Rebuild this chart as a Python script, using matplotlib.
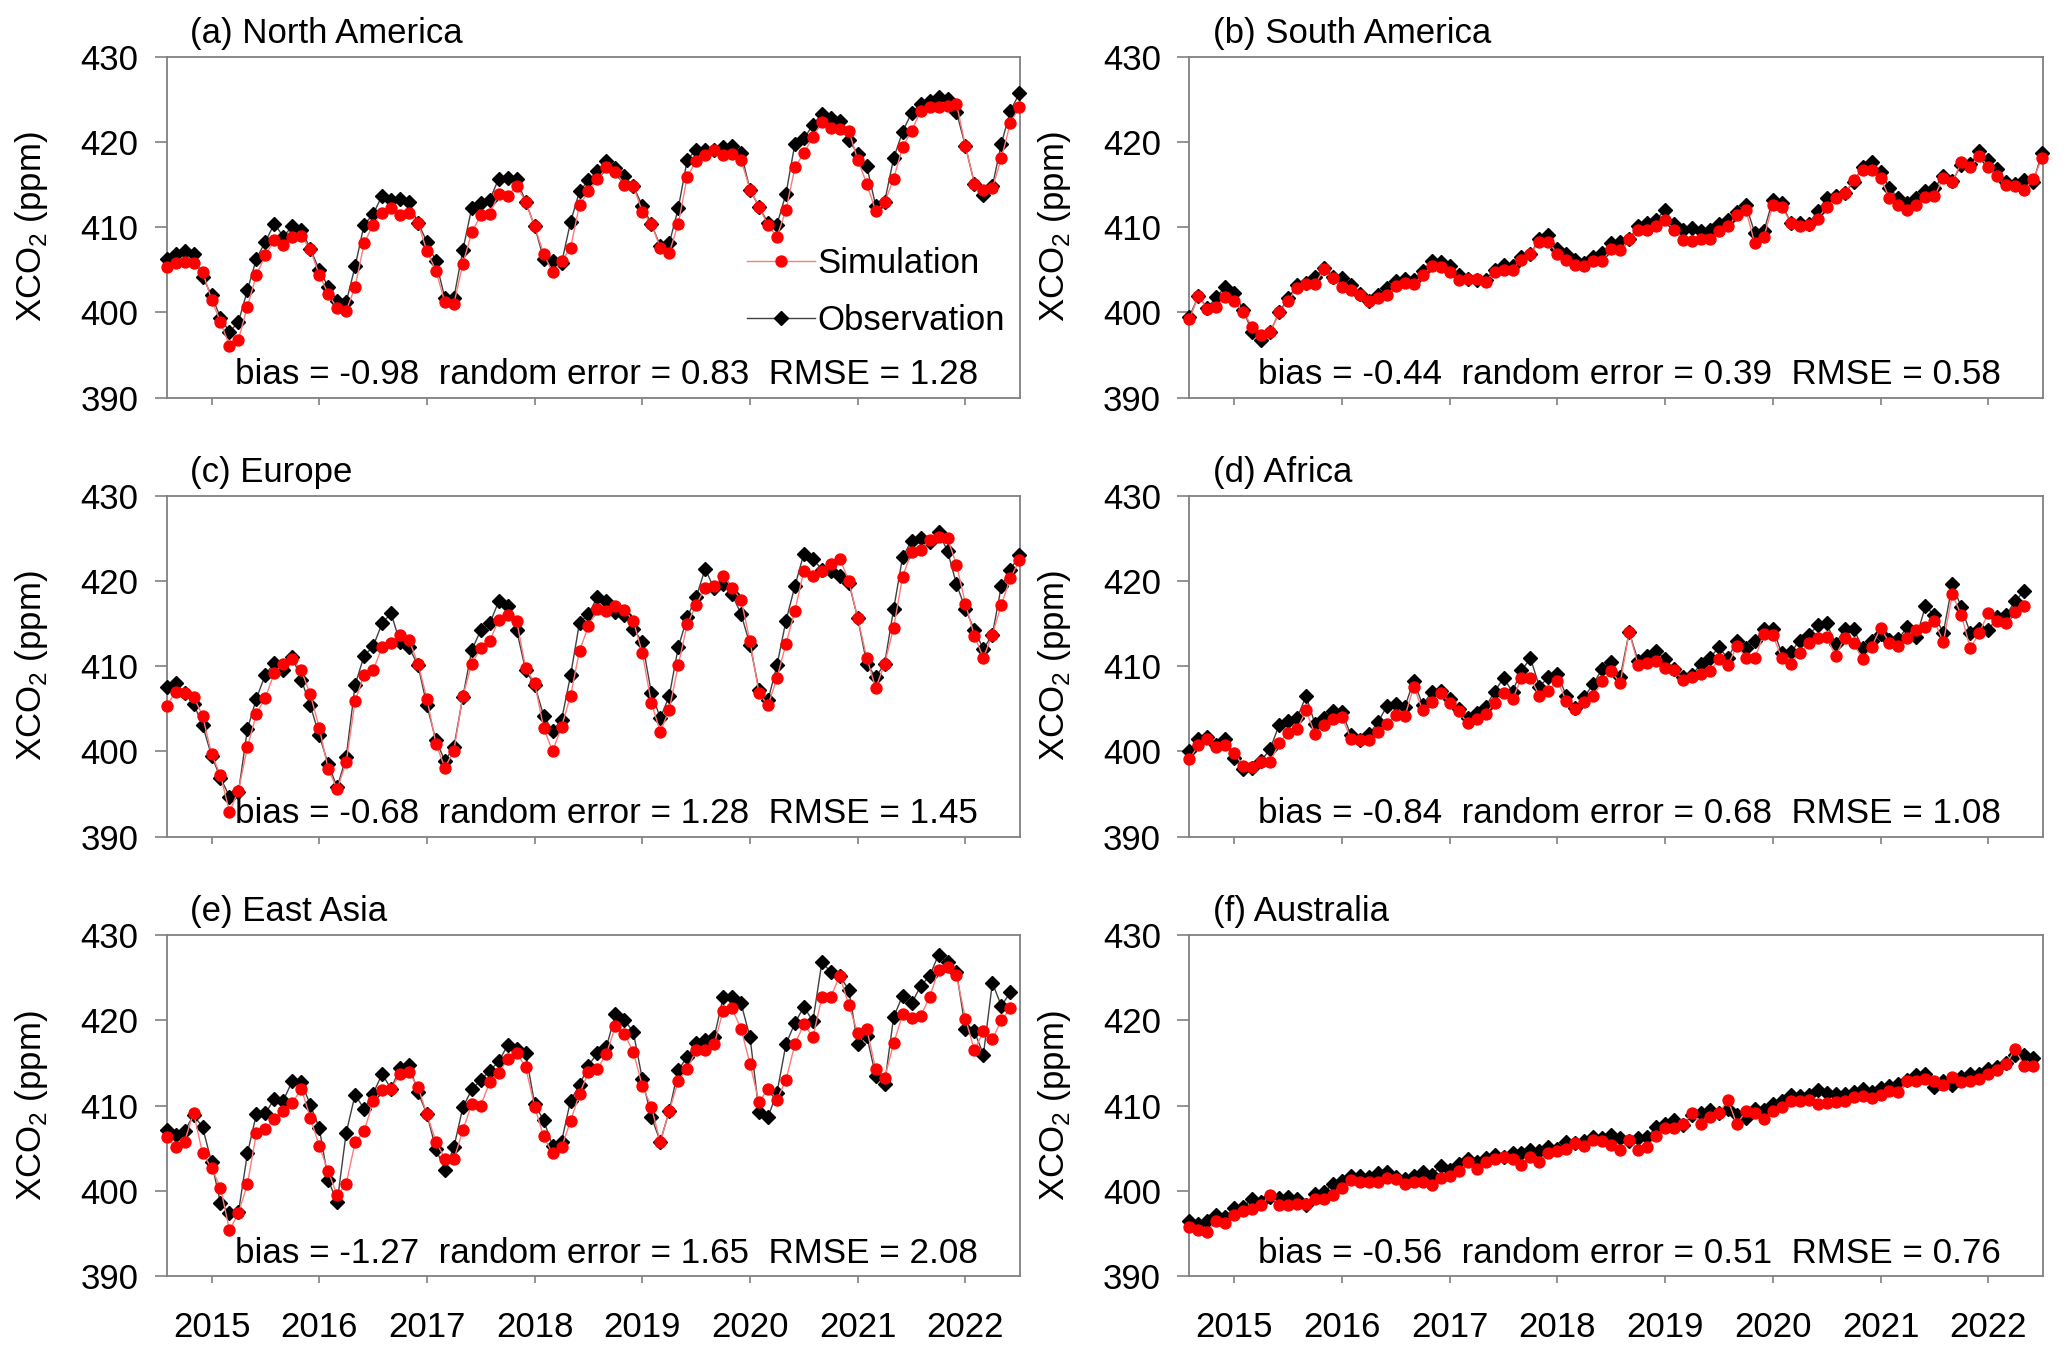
import numpy as np
import matplotlib.pyplot as plt
from matplotlib.lines import Line2D

plt.rcParams["font.family"] = ["Liberation Sans", "DejaVu Sans"]
plt.rcParams["mathtext.fontset"] = "custom"
plt.rcParams["mathtext.rm"] = "Liberation Sans"


# -------------------------------------------------
# Monthly XCO2 (ppm), first value = Aug 2014
# -------------------------------------------------
na_obs = [406.3, 406.8, 407.2, 406.8, 404.2, 402.0, 399.4, 397.7, 398.9, 402.6,
          406.3, 408.3, 410.4, 408.9, 410.1, 409.7, 407.5, 405.0, 403.0, 401.4,
          401.2, 405.4, 410.3, 411.5, 413.7, 413.2, 413.3, 412.9, 410.5, 408.3,
          406.0, 401.7, 401.7, 407.3, 412.3, 412.8, 413.2, 415.7, 415.8, 415.6,
          413.0, 410.1, 406.3, 406.0, 405.8, 410.6, 414.2, 415.5, 416.6, 417.8,
          416.9, 416.0, 414.8, 412.5, 410.4, 407.8, 408.1, 412.2, 417.9, 419.1,
          419.0, 419.0, 419.4, 419.5, 418.7, 414.4, 412.4, 410.5, 410.3, 413.9,
          419.8, 420.4, 422.0, 423.3, 422.8, 422.5, 420.2, 418.6, 417.2, 412.5,
          413.0, 418.1, 421.2, 423.4, 424.5, 424.8, 425.3, 425.0, 423.5, 419.5,
          415.1, 413.8, 414.8, 419.8, 423.6, 425.7]
na_sim = [405.3, 405.8, 405.9, 405.8, 404.8, 401.5, 398.9, 396.1, 396.8, 400.7,
          404.4, 406.7, 408.5, 407.9, 408.8, 409.0, 407.4, 404.4, 402.2, 400.5,
          400.2, 403.0, 408.1, 410.3, 411.7, 412.2, 411.4, 411.7, 410.5, 407.2,
          404.9, 401.2, 401.0, 405.7, 409.4, 411.4, 411.5, 413.9, 413.7, 414.8,
          413.0, 410.1, 406.9, 404.7, 406.0, 407.6, 412.6, 414.2, 415.6, 417.0,
          416.5, 415.0, 414.8, 411.8, 410.4, 407.6, 407.0, 410.4, 415.9, 417.8,
          418.5, 419.1, 418.5, 418.6, 417.9, 414.4, 412.4, 410.2, 408.9, 412.0,
          417.0, 418.7, 420.6, 422.3, 421.6, 421.5, 421.3, 417.9, 415.1, 411.9,
          412.9, 415.7, 419.4, 421.3, 423.6, 424.1, 424.1, 424.2, 424.5, 419.5,
          415.1, 414.4, 414.6, 418.1, 422.2, 424.1]

sa_obs = [399.5, 401.9, 400.5, 401.8, 403.0, 402.3, 400.3, 397.7, 396.8, 397.7,
          400.0, 401.7, 403.2, 403.5, 404.2, 405.2, 404.2, 404.0, 403.2, 402.2,
          401.3, 402.0, 402.9, 403.7, 403.9, 403.8, 404.9, 406.0, 405.9, 405.4,
          404.4, 403.9, 403.8, 403.8, 405.0, 405.6, 405.4, 406.5, 406.9, 408.6,
          409.1, 407.5, 406.9, 406.1, 405.8, 406.5, 407.0, 408.2, 408.3, 408.6,
          410.1, 410.5, 410.9, 412.0, 410.4, 409.7, 409.9, 409.5, 409.7, 410.4,
          410.8, 411.8, 412.6, 409.3, 409.5, 413.2, 412.8, 410.5, 410.5, 410.4,
          411.9, 413.4, 413.6, 414.0, 415.3, 417.1, 417.6, 416.5, 414.6, 413.4,
          412.8, 413.4, 414.2, 414.6, 416.0, 415.4, 417.3, 417.4, 418.9, 417.9,
          416.8, 415.3, 415.1, 415.5, 415.3, 418.7]
sa_sim = [399.2, 401.9, 400.4, 400.6, 401.8, 401.3, 400.1, 398.3, 397.4, 397.7,
          400.0, 401.4, 402.9, 403.3, 403.3, 405.1, 404.0, 403.0, 402.6, 402.0,
          401.3, 401.7, 402.0, 403.1, 403.5, 403.3, 404.4, 405.4, 405.3, 404.8,
          403.8, 403.9, 403.9, 403.6, 404.8, 405.0, 405.0, 406.2, 406.9, 408.3,
          408.3, 406.9, 406.1, 405.6, 405.4, 406.0, 406.0, 407.5, 407.3, 408.6,
          409.7, 409.7, 410.1, 410.8, 409.7, 408.5, 408.4, 408.6, 408.6, 409.5,
          410.1, 411.4, 412.0, 408.1, 408.8, 412.6, 412.4, 410.5, 410.1, 410.3,
          411.0, 412.4, 413.4, 414.0, 415.5, 416.7, 416.7, 415.8, 413.4, 412.6,
          412.0, 412.6, 413.5, 413.6, 415.8, 415.3, 417.6, 417.1, 418.4, 417.1,
          416.0, 414.9, 414.8, 414.4, 415.6, 418.1]

eu_obs = [407.5, 408.0, 406.9, 405.6, 403.1, 399.5, 396.9, 394.7, 395.2, 402.6,
          406.2, 409.0, 410.4, 409.5, 411.1, 408.4, 405.4, 401.9, 398.5, 395.8,
          399.3, 407.8, 411.2, 412.3, 415.0, 416.2, 412.8, 412.2, 410.1, 405.4,
          401.3, 398.9, 400.5, 406.4, 411.9, 414.2, 415.0, 417.6, 417.1, 414.2,
          409.5, 407.8, 404.2, 402.4, 403.7, 408.9, 415.1, 416.1, 418.1, 417.6,
          416.3, 416.0, 414.4, 412.8, 406.9, 403.9, 406.5, 412.2, 415.7, 418.1,
          421.4, 419.1, 419.6, 418.4, 416.1, 412.5, 407.2, 406.0, 410.1, 415.3,
          419.4, 423.2, 422.6, 421.3, 421.2, 420.6, 419.8, 415.6, 410.3, 408.7,
          410.3, 416.7, 422.8, 424.7, 425.0, 424.6, 425.7, 423.5, 419.6, 416.7,
          414.2, 412.0, 413.7, 419.4, 421.3, 423.0]
eu_sim = [405.3, 407.0, 406.9, 406.4, 404.2, 399.7, 397.2, 392.9, 395.4, 400.5,
          404.4, 406.3, 409.2, 410.3, 410.8, 409.5, 406.7, 402.8, 397.9, 395.6,
          398.7, 405.9, 409.0, 409.5, 412.2, 412.7, 413.6, 413.1, 410.3, 406.2,
          400.9, 398.1, 400.1, 406.5, 410.3, 412.1, 413.0, 415.4, 416.0, 415.3,
          409.8, 408.0, 402.8, 400.0, 402.9, 406.5, 411.8, 414.7, 416.7, 416.5,
          417.0, 416.6, 415.3, 411.5, 405.7, 402.3, 404.9, 410.1, 414.9, 417.2,
          419.2, 419.4, 420.6, 419.2, 417.8, 412.9, 406.8, 405.4, 408.6, 412.6,
          416.5, 421.2, 420.6, 421.1, 422.0, 422.6, 420.0, 415.6, 411.0, 407.4,
          410.3, 414.5, 420.5, 423.4, 423.6, 424.8, 425.1, 425.0, 421.9, 417.3,
          413.5, 411.0, 413.7, 417.2, 420.3, 422.4]

af_obs = [400.1, 401.4, 401.7, 400.7, 401.5, 399.2, 397.9, 398.1, 398.9, 400.3,
          403.1, 403.6, 403.9, 406.5, 403.2, 403.9, 404.7, 404.6, 401.9, 401.3,
          402.0, 403.4, 405.3, 405.6, 405.2, 408.3, 405.4, 407.0, 407.1, 406.1,
          405.0, 403.9, 404.5, 405.2, 407.0, 408.6, 407.0, 409.5, 410.9, 407.6,
          408.7, 409.1, 406.5, 405.1, 406.4, 407.9, 409.7, 410.5, 408.7, 414.0,
          410.6, 411.2, 411.8, 410.8, 409.7, 408.7, 408.9, 410.3, 411.0, 412.2,
          410.9, 413.0, 412.1, 412.9, 414.4, 414.4, 411.5, 411.6, 413.0, 413.6,
          414.8, 415.0, 412.6, 414.4, 414.4, 412.1, 413.0, 413.8, 413.1, 413.2,
          414.6, 413.4, 417.0, 416.0, 413.9, 419.6, 416.9, 413.9, 414.4, 414.2,
          415.7, 416.0, 417.6, 418.8]
af_sim = [399.1, 400.7, 401.4, 400.5, 400.7, 399.8, 398.3, 398.2, 398.7, 398.7,
          401.0, 402.2, 402.6, 404.8, 402.0, 403.1, 403.8, 404.0, 401.5, 401.3,
          401.3, 402.3, 403.2, 404.3, 404.1, 407.6, 404.8, 405.8, 406.9, 405.7,
          404.7, 403.3, 403.8, 404.4, 405.7, 406.9, 406.1, 408.6, 408.6, 406.5,
          407.1, 408.3, 405.9, 405.0, 405.8, 406.5, 408.2, 409.4, 408.0, 414.0,
          410.1, 410.4, 410.6, 409.8, 409.5, 408.4, 408.7, 409.1, 409.4, 410.8,
          410.1, 412.4, 411.0, 410.9, 413.8, 413.6, 411.0, 410.3, 411.5, 412.7,
          413.3, 413.4, 411.2, 413.3, 412.7, 410.8, 412.2, 414.5, 412.7, 412.3,
          413.3, 414.2, 414.6, 415.3, 412.8, 418.4, 416.0, 412.1, 413.9, 416.2,
          415.3, 415.0, 416.4, 417.0]

ea_obs = [407.2, 406.6, 407.0, 408.9, 407.5, 403.4, 398.6, 397.4, 397.5, 404.4,
          409.0, 409.1, 410.8, 410.6, 412.9, 412.8, 410.1, 407.4, 401.3, 398.7,
          406.8, 411.3, 409.6, 411.4, 413.7, 412.0, 414.4, 414.8, 411.6, 409.0,
          404.9, 402.5, 405.1, 409.8, 411.9, 413.0, 414.1, 415.2, 417.1, 416.7,
          416.2, 410.2, 408.3, 405.3, 405.8, 410.6, 412.4, 414.7, 416.2, 416.9,
          420.7, 420.1, 418.6, 413.1, 408.7, 405.8, 409.4, 414.2, 415.7, 417.3,
          417.7, 418.0, 422.7, 422.7, 422.0, 418.0, 409.3, 408.7, 411.5, 417.2,
          419.7, 421.6, 419.9, 426.8, 425.7, 425.2, 423.6, 417.2, 418.2, 413.5,
          412.6, 420.4, 422.9, 422.0, 424.0, 425.2, 427.7, 426.8, 425.7, 419.0,
          418.7, 416.0, 424.4, 421.7, 423.3]
ea_sim = [406.3, 405.2, 405.8, 409.2, 404.4, 402.7, 400.4, 395.4, 397.4, 400.8,
          406.8, 407.3, 408.4, 409.4, 410.3, 412.0, 408.6, 405.3, 402.3, 399.5,
          400.8, 405.7, 407.0, 410.5, 411.8, 412.0, 413.7, 413.9, 412.2, 409.0,
          405.8, 403.8, 403.7, 407.1, 410.2, 410.0, 412.8, 413.8, 415.5, 416.2,
          414.5, 409.9, 406.4, 404.4, 405.1, 408.2, 411.4, 413.9, 414.3, 416.1,
          419.3, 418.4, 416.3, 412.3, 409.9, 405.7, 409.4, 412.9, 414.3, 416.5,
          416.5, 417.2, 421.1, 421.4, 419.0, 414.9, 410.4, 412.0, 410.7, 413.0,
          417.2, 419.6, 418.0, 422.7, 422.8, 425.2, 421.8, 418.5, 419.0, 414.3,
          413.3, 417.3, 420.7, 420.3, 420.5, 422.7, 425.9, 426.3, 425.3, 420.2,
          416.5, 418.7, 417.8, 420.0, 421.4]

au_obs = [396.5, 396.1, 396.5, 397.2, 397.0, 398.0, 398.1, 399.1, 398.7, 399.3,
          399.2, 399.3, 399.1, 398.4, 399.7, 399.9, 400.8, 401.2, 401.8, 401.8,
          401.6, 402.1, 402.2, 401.6, 401.4, 401.7, 402.2, 401.9, 402.9, 402.5,
          403.2, 403.7, 403.4, 403.9, 404.2, 404.0, 404.4, 404.4, 404.8, 404.7,
          405.1, 404.9, 405.7, 405.6, 405.9, 406.3, 406.2, 406.6, 406.2, 405.9,
          406.2, 406.3, 407.5, 407.9, 408.3, 407.7, 408.9, 409.2, 409.5, 409.2,
          409.6, 408.9, 408.5, 409.6, 409.5, 410.2, 410.6, 411.2, 411.1, 411.2,
          411.8, 411.5, 411.4, 411.4, 411.6, 411.9, 411.6, 412.1, 412.3, 412.6,
          413.0, 413.6, 413.7, 412.2, 412.9, 412.4, 413.4, 413.7, 413.7, 414.3,
          414.5, 415.0, 415.9, 415.9, 415.6]
au_sim = [395.8, 395.4, 395.2, 396.5, 396.3, 397.2, 397.7, 397.9, 398.4, 399.5,
          398.4, 398.3, 398.5, 398.5, 399.0, 399.1, 399.5, 400.3, 401.3, 401.0,
          401.0, 401.1, 401.5, 401.4, 400.8, 401.1, 401.0, 400.7, 401.5, 401.7,
          402.3, 403.4, 402.6, 403.4, 403.7, 404.0, 403.7, 403.1, 404.0, 403.4,
          404.4, 404.7, 404.9, 405.6, 405.3, 406.0, 405.9, 405.4, 404.8, 406.0,
          404.8, 405.2, 406.4, 407.4, 407.4, 407.8, 409.1, 407.9, 408.7, 409.1,
          410.7, 407.8, 409.4, 409.2, 408.4, 409.4, 409.9, 410.5, 410.6, 410.7,
          410.2, 410.3, 410.4, 410.6, 411.0, 411.1, 410.9, 411.2, 411.7, 411.6,
          412.9, 412.9, 413.1, 412.9, 412.4, 413.4, 412.8, 412.9, 413.1, 413.7,
          414.2, 414.9, 416.6, 414.7, 414.7]

titles = ["(a) North America", "(b) South America", "(c) Europe",
          "(d) Africa", "(e) East Asia", "(f) Australia"]
stats = ["bias = -0.98  random error = 0.83  RMSE = 1.28",
         "bias = -0.44  random error = 0.39  RMSE = 0.58",
         "bias = -0.68  random error = 1.28  RMSE = 1.45",
         "bias = -0.84  random error = 0.68  RMSE = 1.08",
         "bias = -1.27  random error = 1.65  RMSE = 2.08",
         "bias = -0.56  random error = 0.51  RMSE = 0.76"]
obs_series = [na_obs, sa_obs, eu_obs, af_obs, ea_obs, au_obs]
sim_series = [na_sim, sa_sim, eu_sim, af_sim, ea_sim, au_sim]

years = [2015, 2016, 2017, 2018, 2019, 2020, 2021, 2022]
y_ticks = [390, 400, 410, 420, 430]

GREY = "#808080"
OBS_LINE = "#404040"
SIM_LINE = "#ff7a7a"
FS = 25


# -------------------------------------------------
# Helpers
# -------------------------------------------------
def month_axis(n: int) -> np.ndarray:
    """Decimal year for n monthly values starting Aug 2014."""
    return 2014 + (7 + np.arange(n)) / 12.0


def draw_panel(ax, title, obs, sim, stat, show_xlabels):
    """One region: observation (diamonds) and simulation (circles)."""
    x = month_axis(len(obs))
    ax.plot(x, obs, color=OBS_LINE, lw=1.0, marker="D", ms=6.8,
            mfc="black", mec="black", clip_on=False, zorder=3)
    ax.plot(x, sim, color=SIM_LINE, lw=1.0, marker="o", ms=7.9,
            mfc="red", mec="red", clip_on=False, zorder=4)

    ax.set_xlim(2014.583, 2022.507)
    ax.set_ylim(390, 430)
    ax.set_xticks(years)
    ax.set_yticks(y_ticks)

    for sp in ax.spines.values():
        sp.set_color(GREY)
        sp.set_linewidth(1.3)
    ax.tick_params(axis="y", direction="out", length=8.4, width=1.2,
                   color=GREY, pad=12, labelsize=FS)
    ax.tick_params(axis="x", direction="out", length=5, width=1.2,
                   color=GREY, pad=20, labelsize=FS,
                   labelbottom=show_xlabels)

    ax.text(0.028, 1.04, title, transform=ax.transAxes, fontsize=25,
            ha="left", va="baseline")
    ax.text(0.080, 0.040, stat, transform=ax.transAxes, fontsize=25.2,
            ha="left", va="baseline")
    ax.text(-0.158, 0.5, r"XCO$_{\rm 2}$ (ppm)", transform=ax.transAxes,
            fontsize=FS, rotation=90, ha="center", va="center")


# -------------------------------------------------
# Figure
# -------------------------------------------------
fig = plt.figure(figsize=(20.67, 13.58), dpi=100)

col_x = [0.0806, 0.5754]
row_y = [0.7071, 0.3839, 0.0602]
width, height = 0.4129, 0.2512

for i in range(6):
    row, col = divmod(i, 2)
    ax = fig.add_axes([col_x[col], row_y[row], width, height])
    draw_panel(ax, titles[i], obs_series[i], sim_series[i], stats[i],
               show_xlabels=(row == 2))

    if i == 0:
        h_sim = Line2D([], [], color=SIM_LINE, lw=1.0, marker="o", ms=7.9,
                       mfc="red", mec="red")
        h_obs = Line2D([], [], color=OBS_LINE, lw=1.0, marker="D", ms=6.8,
                       mfc="black", mec="black")
        ax.legend([h_sim, h_obs], ["Simulation", "Observation"],
                  loc="lower left", bbox_to_anchor=(0.680, 0.179),
                  frameon=False, fontsize=FS, handlelength=1.95,
                  handletextpad=0.08, labelspacing=0.67, borderpad=0,
                  borderaxespad=0)

fig.savefig("out.png", dpi=100)
